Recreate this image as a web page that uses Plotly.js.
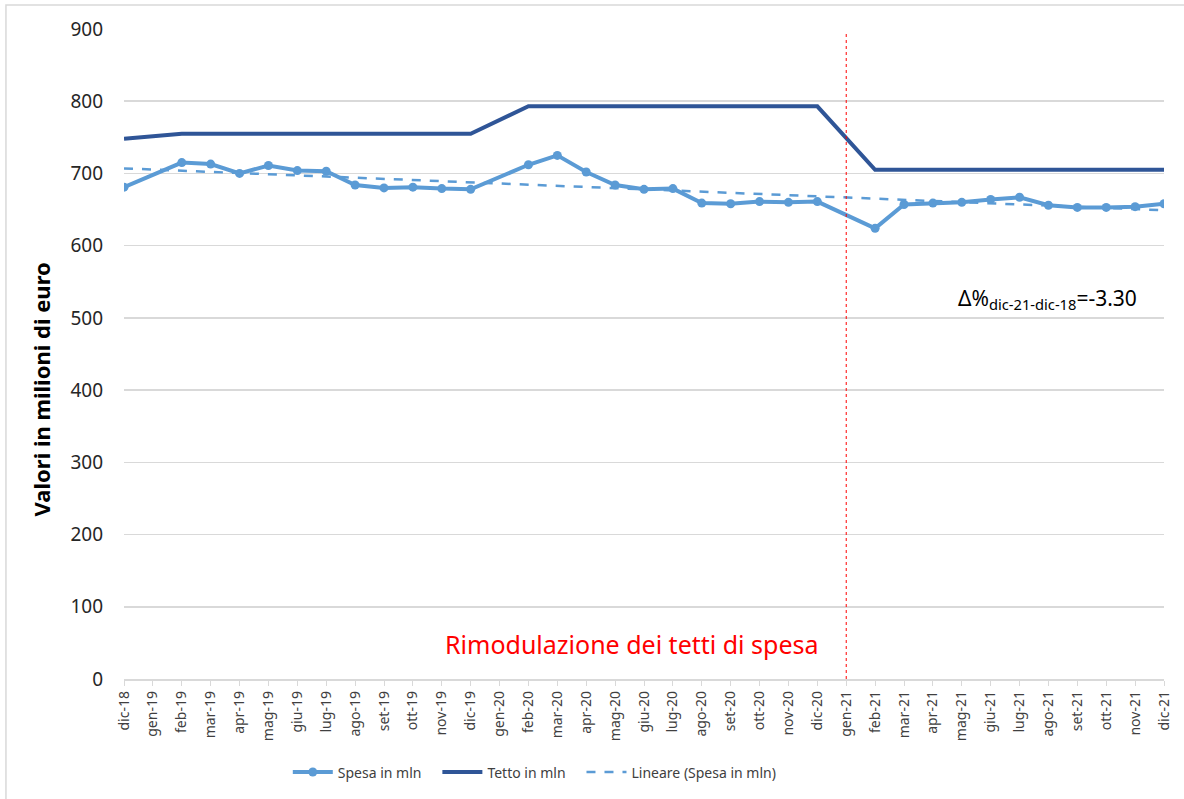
<!DOCTYPE html>
<html>
<head>
<meta charset="utf-8">
<script src="https://cdn.plot.ly/plotly-3.0.1.min.js"></script>
<style>html,body{margin:0;padding:0;background:#fff;}#chart{width:1184px;height:799px;}</style>
</head>
<body>
<div id="chart"></div>
<script>
const months = ["dic-18","gen-19","feb-19","mar-19","apr-19","mag-19","giu-19","lug-19","ago-19","set-19","ott-19","nov-19","dic-19",
  "gen-20","feb-20","mar-20","apr-20","mag-20","giu-20","lug-20","ago-20","set-20","ott-20","nov-20","dic-20",
  "gen-21","feb-21","mar-21","apr-21","mag-21","giu-21","lug-21","ago-21","set-21","ott-21","nov-21","dic-21"];
const spesa = [681,null,715,713,700,711,704,703,684,680,681,679,678,
  null,712,725,702,684,678,679,659,658,661,660,661,
  null,624,657,659,660,664,667,656,653,653,654,658];
const tetto = [748,null,755,755,755,755,755,755,755,755,755,755,755,
  null,793,793,793,793,793,793,793,793,793,793,793,
  null,705,705,705,705,705,705,705,705,705,705,705];
const trendX = ["dic-18","dic-21"];
const trendY = [707,649];
const yTicks = [0,100,200,300,400,500,600,700,800,900];

const FONT = "Noto Sans, Open Sans, sans-serif";
const PAD = "\u00a0\u00a0\u00a0";
const traces = [
  {x: months, y: spesa, name: "Spesa in mln" + PAD, type: "scatter", mode: "lines+markers", connectgaps: true,
   line: {color: "#5B9BD5", width: 4}, marker: {color: "#5B9BD5", size: 9}},
  {x: months, y: tetto, name: "Tetto in mln" + PAD, type: "scatter", mode: "lines", connectgaps: true,
   line: {color: "#2F5597", width: 4}},
  {x: trendX, y: trendY, name: "Lineare (Spesa in mln)", type: "scatter", mode: "lines",
   line: {color: "#5B9BD5", width: 2.5, dash: "dash"}}
];
const layout = {
  width: 1184, height: 799,
  margin: {l: 124, r: 20, t: 29, b: 119},
  paper_bgcolor: "#fff", plot_bgcolor: "#fff",
  font: {family: FONT, color: "#404040"},
  showlegend: true,
  legend: {orientation: "h", x: 0.395, xanchor: "center", y: -0.142, yanchor: "middle",
           font: {size: 14, color: "#404040", family: FONT}, itemwidth: 40, tracegroupgap: 0},
  xaxis: {type: "category", categoryorder: "array", categoryarray: months,
          range: [0, months.length - 1], tickangle: -90,
          tickfont: {size: 14, color: "#404040", family: FONT},
          showline: true, linecolor: "#d9d9d9", linewidth: 1.5,
          ticks: "outside", ticklen: 5, tickcolor: "#d9d9d9", showgrid: false},
  yaxis: {range: [0, 900], tickvals: yTicks, ticktext: yTicks.map(String),
          tickfont: {size: 19, color: "#262626", family: FONT},
          gridcolor: "#d9d9d9", gridwidth: 1.5, zeroline: false, showline: false,
          ticklabelstandoff: 20},
  shapes: [
    {type: "line", xref: "x", yref: "y", x0: "gen-21", x1: "gen-21", y0: 0, y1: 895,
     line: {color: "#FF0000", width: 1, dash: "dot"}},
    {type: "rect", xref: "paper", yref: "paper", x0: -0.1135, x1: 1.05, y0: -0.3, y1: 1.0369,
     line: {color: "#d9d9d9", width: 1.5}, fillcolor: "rgba(0,0,0,0)"}
  ],
  annotations: [
    {xref: "paper", yref: "paper", x: -0.080, y: 0.445, xanchor: "center", yanchor: "middle",
     text: "<b>Valori in milioni di euro</b>", showarrow: false, textangle: -90,
     font: {size: 22, color: "#000", family: FONT}},
    {xref: "paper", yref: "paper", x: 0.488, y: 0.054, xanchor: "center", yanchor: "middle",
     text: "Rimodulazione dei tetti di spesa", showarrow: false,
     font: {size: 25, color: "#FF0000", family: FONT}},
    {xref: "paper", yref: "paper", x: 0.8, y: 0.584, xanchor: "left", yanchor: "middle",
     text: "Δ%<sub>dic-21-dic-18</sub>=-3.30", showarrow: false,
     font: {size: 21, color: "#000", family: FONT}}
  ]
};
Plotly.newPlot("chart", traces, layout, {displayModeBar: false, staticPlot: true});
</script>
</body>
</html>
